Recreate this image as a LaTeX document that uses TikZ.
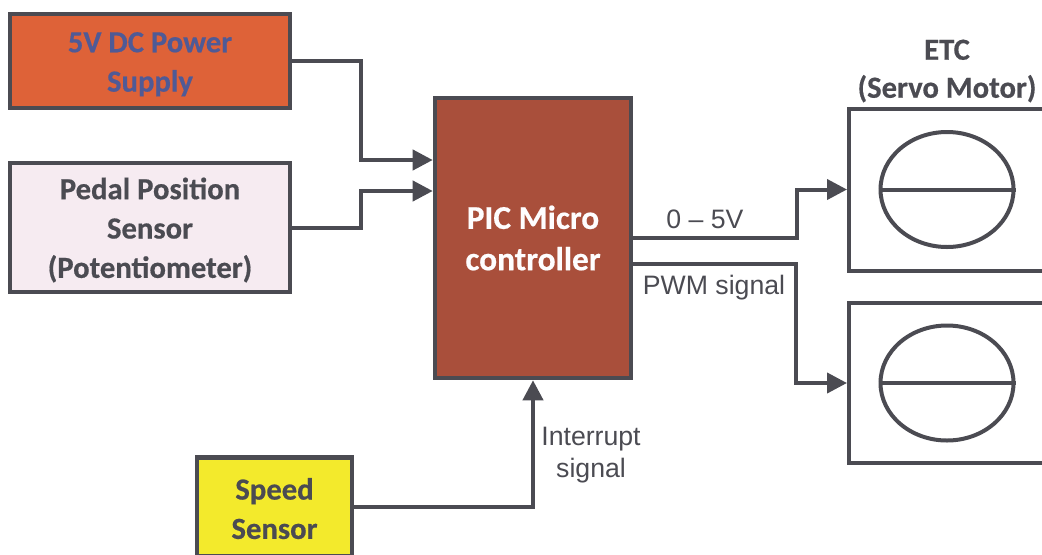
\documentclass[tikz,border=0pt]{standalone}
\usepackage{fontspec}
\setmainfont{Carlito}[BoldFeatures={FakeBold=0.5}]
\newfontfamily\labelfont{Liberation Sans}
\usetikzlibrary{arrows.meta,positioning,shapes.geometric}
\definecolor{ink}{HTML}{4B4B52}
\definecolor{powerfill}{HTML}{DE6238}
\definecolor{powertext}{HTML}{4F5A96}
\definecolor{pedalfill}{HTML}{F6EBF1}
\definecolor{picfill}{HTML}{A94F3B}
\definecolor{speedfill}{HTML}{F3EA2C}
\newcommand{\dropline}{\rule{0pt}{20pt}}
\newcommand{\dropless}{\rule{0pt}{18.5pt}}
\tikzset{
  x=0.75pt,y=-0.75pt,
  block/.style={draw=ink,line width=3.4pt,rectangle,inner sep=0pt,align=center,font=\fontsize{23}{29.5}\selectfont\bfseries,text=ink},
  servo/.style={draw=ink,line width=3pt,rectangle,inner sep=0pt,fill=white,anchor=west,minimum width=220*0.75pt},
  wheel/.style={draw=ink,line width=3pt,ellipse,inner sep=0pt,minimum width=133*0.75pt,minimum height=115*0.75pt},
  wire/.style={draw=ink,line width=3pt},
  arrowwire/.style={wire,-{Triangle[length=15pt,width=15pt]}},
  sig/.style={font=\labelfont\fontsize{20}{23.5}\selectfont,text=ink,inner sep=0pt,align=center},
}
\begin{document}
\begin{tikzpicture}
\useasboundingbox (0,0) rectangle (1042,554);
\clip (0,0) rectangle (1042,554);
\node[block,fill=powerfill,text=powertext,minimum width=210pt,minimum height=70.5pt] (power) at (150,61) {\dropline 5V DC Power\\Supply};
\node[block,fill=pedalfill,minimum width=210pt,minimum height=96.75pt] (pedal) at (150,227.5) {\dropline Pedal Position\\Sensor\\(Potentiometer)};
\node[block,fill=picfill,text=white!90!pedalfill,minimum width=147pt,minimum height=210pt,font=\fontsize{25}{31}\selectfont\bfseries] (pic) at (533,238) {PIC Micro\\controller};
\node[block,fill=speedfill,minimum width=116.25pt,minimum height=74pt] (speed) at (274.5,507) {\dropless Speed\\Sensor};
\node[servo,minimum height=121.5pt] (servoa) at (847,189.5) {};
\node[servo,minimum height=120pt] (servob) at (847,383) {};
\node[wheel] (wheela) at (947,189.5) {};
\node[wheel] (wheelb) at (947,383) {};
\draw[wire] (wheela.west) -- (wheela.east);
\draw[wire] (wheelb.west) -- (wheelb.east);
\node[font=\fontsize{23}{28.5}\selectfont\bfseries,text=ink,align=center,inner sep=0pt] (etc) at (947,71) {ETC\\(Servo Motor)};
\coordinate (ina) at (pic.west |- 0,160);
\coordinate (inb) at (pic.west |- 0,191);
\coordinate (outa) at (pic.east |- 0,238);
\coordinate (outb) at (pic.east |- 0,264);
\coordinate (bendpower) at (361,160);
\coordinate (bendpedal) at (361,191);
\coordinate (benda) at (797,189.5);
\coordinate (bendb) at (796,383);
\draw[arrowwire] (power.east) -| (bendpower) -- (ina);
\draw[arrowwire] (pedal.east) -| (bendpedal) -- (inb);
\draw[arrowwire] (outa) -| (benda) -- (servoa.west);
\draw[arrowwire] (outb) -| (bendb) -- (servob.west);
\draw[arrowwire] (speed.east) -| (pic.south);
\node[sig] (volts) at (705,219) {0 – 5V};
\node[sig] (pwm) at (714,288) {PWM signal};
\node[sig] (interrupt) at (591,455) {Interrupt\\signal};
\end{tikzpicture}
\end{document}
